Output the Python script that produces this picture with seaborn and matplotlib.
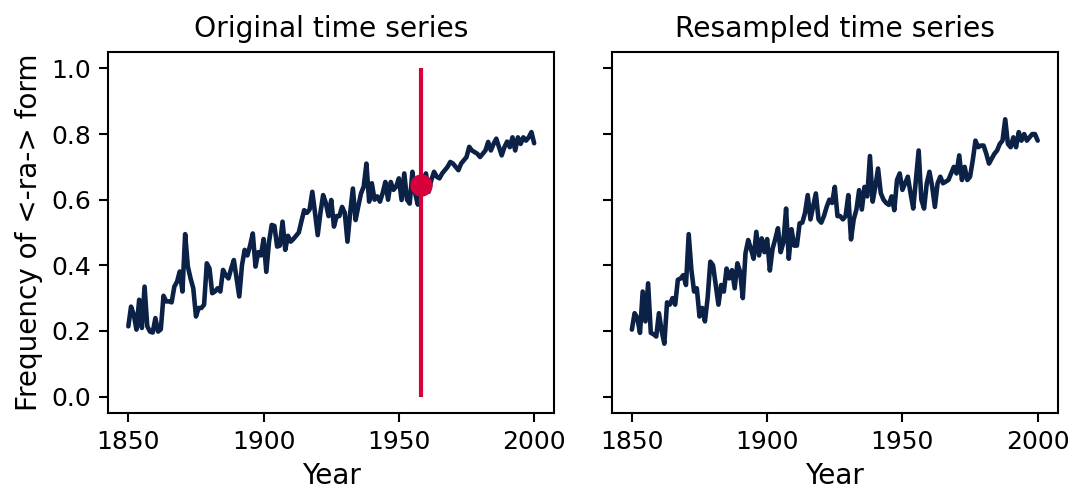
import numpy as np
import pandas as pd
import seaborn as sns
import matplotlib
matplotlib.use("Agg")
import matplotlib.pyplot as plt

years = list(range(1850, 2001))

original = [
    0.214, 0.274, 0.25, 0.204, 0.295, 0.209, 0.335, 0.214, 0.198, 0.195,
    0.239, 0.198, 0.205, 0.307, 0.29, 0.29, 0.287, 0.335, 0.35, 0.381,
    0.32, 0.495, 0.396, 0.36, 0.33, 0.244, 0.27, 0.27, 0.28, 0.406,
    0.39, 0.315, 0.32, 0.33, 0.32, 0.386, 0.37, 0.36, 0.39, 0.416,
    0.36, 0.305, 0.40, 0.447, 0.43, 0.46, 0.497, 0.396, 0.44, 0.43,
    0.48, 0.38, 0.472, 0.523, 0.52, 0.457, 0.46, 0.533, 0.447, 0.49,
    0.472, 0.48, 0.49, 0.50, 0.535, 0.568, 0.56, 0.57, 0.624, 0.56,
    0.492, 0.56, 0.614, 0.59, 0.55, 0.599, 0.518, 0.55, 0.55, 0.578,
    0.56, 0.472, 0.56, 0.634, 0.538, 0.58, 0.619, 0.64, 0.71, 0.594,
    0.65, 0.60, 0.61, 0.594, 0.62, 0.654, 0.60, 0.654, 0.63, 0.64,
    0.665, 0.599, 0.68, 0.60, 0.588, 0.685, 0.62, 0.585, 0.644, 0.65,
    0.68, 0.624, 0.66, 0.685, 0.67, 0.665, 0.68, 0.69, 0.70, 0.715,
    0.71, 0.70, 0.69, 0.71, 0.72, 0.73, 0.761, 0.75, 0.745, 0.74,
    0.73, 0.74, 0.75, 0.776, 0.75, 0.77, 0.786, 0.76, 0.735, 0.76,
    0.777, 0.76, 0.79, 0.75, 0.79, 0.77, 0.79, 0.78, 0.79, 0.806,
    0.772,
]

resampled = [
    0.204, 0.254, 0.24, 0.194, 0.32, 0.229, 0.345, 0.194, 0.19, 0.183,
    0.254, 0.20, 0.161, 0.287, 0.28, 0.30, 0.28, 0.356, 0.36, 0.37,
    0.34, 0.495, 0.386, 0.32, 0.33, 0.244, 0.27, 0.229, 0.30, 0.411,
    0.40, 0.34, 0.28, 0.34, 0.32, 0.39, 0.36, 0.385, 0.33, 0.406,
    0.38, 0.30, 0.437, 0.477, 0.45, 0.42, 0.502, 0.43, 0.482, 0.44,
    0.48, 0.384, 0.45, 0.48, 0.513, 0.44, 0.47, 0.573, 0.42, 0.51,
    0.46, 0.46, 0.528, 0.53, 0.56, 0.614, 0.54, 0.58, 0.619, 0.54,
    0.53, 0.55, 0.578, 0.60, 0.59, 0.639, 0.55, 0.55, 0.54, 0.55,
    0.614, 0.479, 0.54, 0.57, 0.629, 0.57, 0.639, 0.61, 0.733, 0.594,
    0.64, 0.695, 0.62, 0.60, 0.59, 0.584, 0.61, 0.568, 0.66, 0.68,
    0.63, 0.65, 0.67, 0.62, 0.573, 0.66, 0.75, 0.60, 0.573, 0.65,
    0.685, 0.64, 0.578, 0.65, 0.67, 0.65, 0.655, 0.66, 0.68, 0.70,
    0.68, 0.735, 0.66, 0.70, 0.66, 0.67, 0.72, 0.78, 0.76, 0.765,
    0.765, 0.74, 0.71, 0.725, 0.74, 0.75, 0.77, 0.78, 0.845, 0.77,
    0.76, 0.79, 0.76, 0.806, 0.78, 0.80, 0.78, 0.79, 0.80, 0.80,
    0.78,
]

highlight_year = [1958]
highlight_value = [0.644]

titles = ["Original time series", "Resampled time series"]
xlabel = "Year"
ylabel = "Frequency of <-ra-> form"

sns.set_theme(style="ticks")
plt.rcParams["font.family"] = ["DejaVu Sans"]
plt.rcParams["axes.edgecolor"] = "black"
plt.rcParams["xtick.color"] = "black"
plt.rcParams["ytick.color"] = "black"
plt.rcParams["text.color"] = "black"
plt.rcParams["axes.labelcolor"] = "black"

line_color = "#0b2146"
red = "#d7003a"

df_o = pd.DataFrame({"Year": years, "value": original})
df_r = pd.DataFrame({"Year": years, "value": resampled})

fig, axes = plt.subplots(1, 2, figsize=(1073 / 150, 491 / 150), dpi=150, sharey=True)
fig.subplots_adjust(left=0.1007, right=0.986, bottom=0.159, top=0.894, wspace=0.128)

ax = axes[0]
sns.lineplot(data=df_o, x="Year", y="value", ax=ax, color=line_color, lw=2.2)
ax.vlines(highlight_year, 0, 1, color=red, lw=2.0, zorder=3)
sns.scatterplot(x=highlight_year, y=highlight_value, ax=ax, color=red, s=115,
                edgecolor=red, linewidth=0, zorder=4)
ax.set_title(titles[0], fontsize=13.5, color="black", pad=7)
ax.set_ylabel(ylabel, fontsize=13.4)
ax.set_xlabel(xlabel, fontsize=13.4)

ax2 = axes[1]
sns.lineplot(data=df_r, x="Year", y="value", ax=ax2, color=line_color, lw=2.2)
ax2.set_title(titles[1], fontsize=13.5, color="black", pad=7)
ax2.set_xlabel(xlabel, fontsize=13.4)
ax2.set_ylabel("")

for a in axes:
    a.set_xticks([1850, 1900, 1950, 2000])
    a.set_yticks([0.0, 0.2, 0.4, 0.6, 0.8, 1.0])
    a.tick_params(labelsize=12, width=1, length=4.5)
    for s in a.spines.values():
        s.set_linewidth(1.0)
axes[0].set_ylim(-0.05, 1.05)

fig.savefig("out.png", dpi=150)
